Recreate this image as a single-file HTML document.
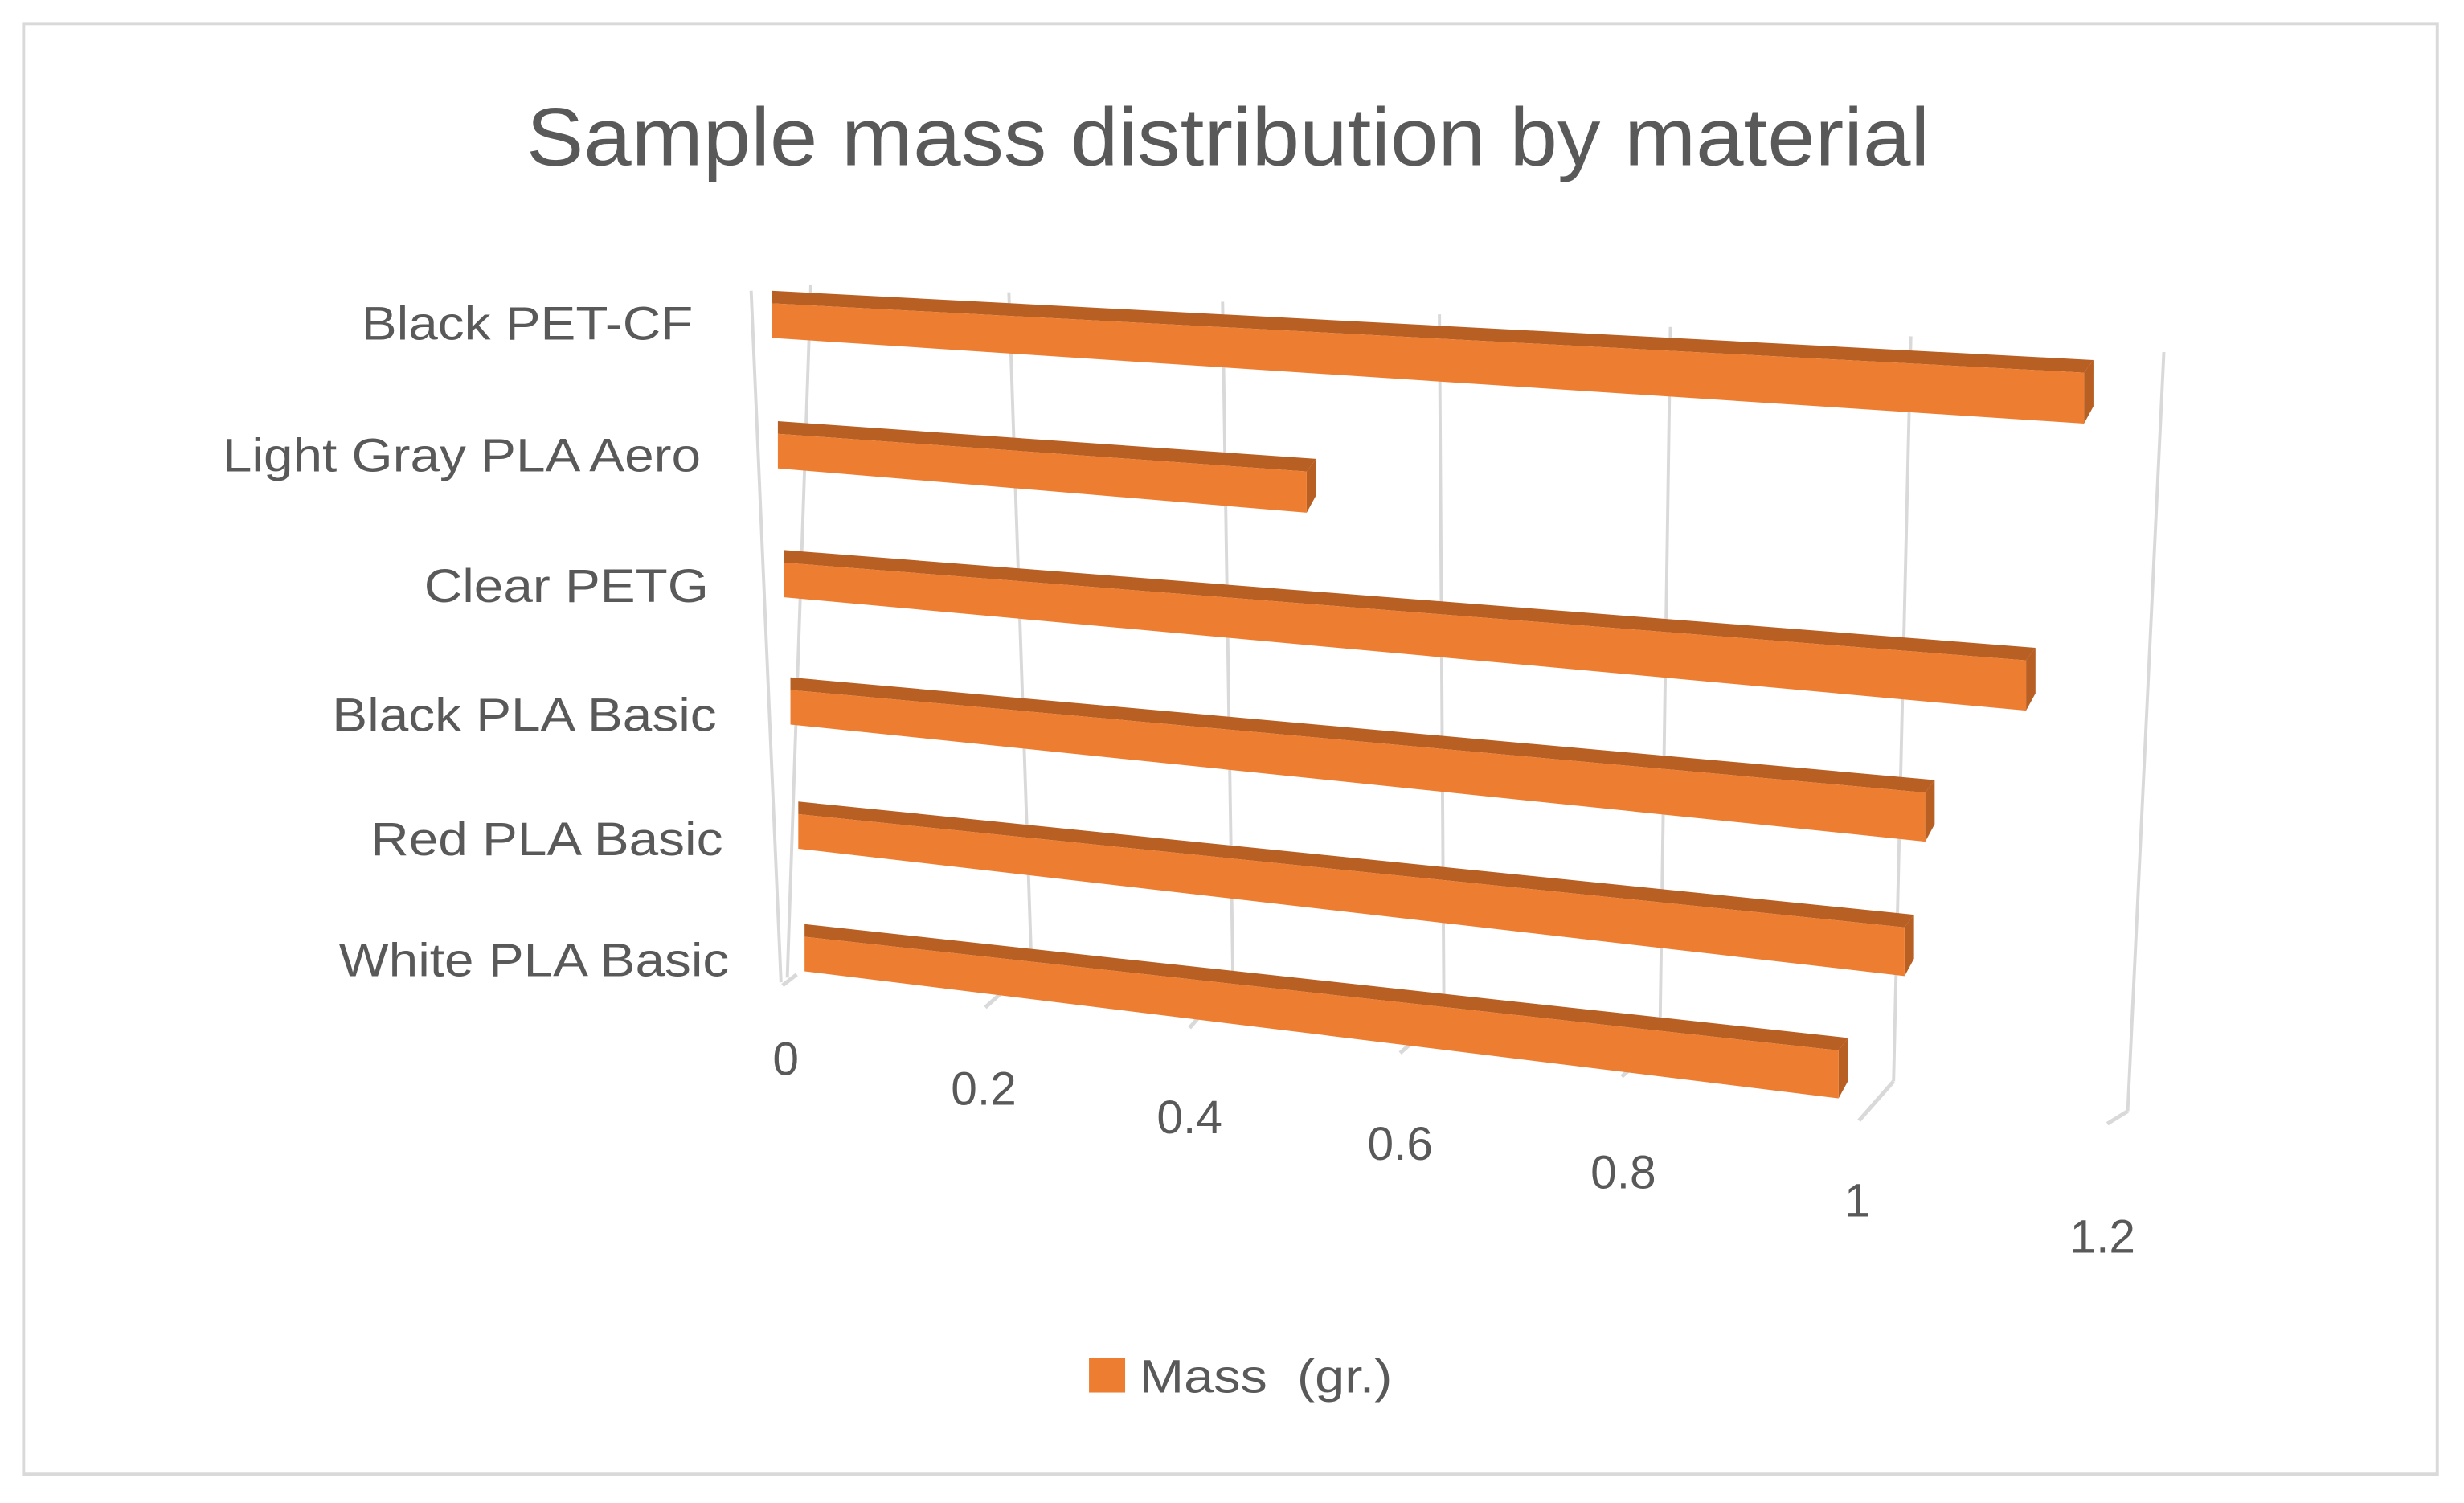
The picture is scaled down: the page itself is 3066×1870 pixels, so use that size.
<!DOCTYPE html>
<html><head><meta charset="utf-8"><style>
html,body{margin:0;padding:0;background:#fff}
svg{display:block}
text{font-family:"Liberation Sans",sans-serif;fill:#595959}
</style></head><body>
<svg id="chart" width="3066" height="1870" viewBox="0 0 1568 956.3" preserveAspectRatio="none" xmlns="http://www.w3.org/2000/svg">
<rect x="15" y="15" width="1536" height="923" fill="#fff" stroke="#d9d9d9" stroke-width="2"/>
<text x="335" y="105" font-size="52" textLength="893" lengthAdjust="spacingAndGlyphs">Sample mass distribution by material</text>
<g id="grid"></g>
<g id="bars"></g>
<g id="cats"></g>
<g id="ticks"></g>
<rect x="693" y="864" width="23" height="22" fill="#ED7D31"/>
<text x="725" y="886" font-size="30" xml:space="preserve" textLength="161" lengthAdjust="spacingAndGlyphs">Mass  (gr.)</text>
</svg>
<script>
const categories = ['Black PET-CF','Light Gray PLA Aero','Clear PETG','Black PLA Basic','Red PLA Basic','White PLA Basic'];
const massValues = [1.16, 0.47, 1.11, 1.02, 1.00, 0.94];
const tickValues = [0, 0.2, 0.4, 0.6, 0.8, 1.0, 1.2];
const tickLabels = ['0','0.2','0.4','0.6','0.8','1','1.2'];

const NS='http://www.w3.org/2000/svg';
function mk(tag,attrs,parent){const e=document.createElementNS(NS,tag);for(const k in attrs)e.setAttribute(k,attrs[k]);parent.appendChild(e);return e;}
function interp(xs,ys,v){for(let i=0;i<xs.length-1;i++){if(v<=xs[i+1]||i===xs.length-2){const f=(v-xs[i])/(xs[i+1]-xs[i]);return ys[i]+f*(ys[i+1]-ys[i]);}}return ys[0];}

// perspective geometry (layout, not data)
const refV=[0,0.2,0.4,0.6,0.8,1.0,1.2];
const gTopX=[516,642,778,916,1063,1216,1377], gTopY=[181,186,192,200,208,214,224];
const gBotX=[501,657,785,919,1056,1205,1354], gBotY=[622,632,648,664,680,688,707];
const ftX=[507,637,763,900,1040,1205,1354], ftY=[620,632,647,662,678,688,707];
const ftX2=[498,627,757,891,1032,1183,1341], ftY2=[627,641,654,670,685,713,715];
const tkX=[500,626,757,891,1033,1182,1338], tkY=[684,703,721,738,756,774,797];
const rowX0=[491,495,499,503,508,512], rowY0=[193,276,358,439,518,596];
const rowS=[720,716,712,708,704,700], rowT=[38,51,56,64,72,77];
const catRight=[441,446,451,456,460,464], catY=[216,300,383,465,544,621];

const grid=document.getElementById('grid');
const lw=mk('line',{x1:478,y1:185,x2:497,y2:625,stroke:'#d9d9d9','stroke-width':2},grid);


tickValues.forEach((v,i)=>{
  const tx=interp(refV,gTopX,v),ty=interp(refV,gTopY,v),bx=interp(refV,gBotX,v),by=interp(refV,gBotY,v);
  const l=mk('line',{x1:tx,y1:ty,x2:bx,y2:by,stroke:'#d9d9d9','stroke-width':2},grid);
  
  
  const t=mk('line',{x1:interp(refV,ftX,v),y1:interp(refV,ftY,v),x2:interp(refV,ftX2,v),y2:interp(refV,ftY2,v),stroke:'#d9d9d9','stroke-width':2.5},grid);
  
  
  const lab=mk('text',{x:interp(refV,tkX,v),y:interp(refV,tkY,v),'font-size':30,'text-anchor':'middle'},document.getElementById('ticks'));
  lab.textContent=tickLabels[i];
  
  
});

const bars=document.getElementById('bars');
massValues.forEach((v,i)=>{
  const x0=rowX0[i],y0=rowY0[i],x1=x0+v*rowS[i],y1=y0+v*rowT[i];
  const h0=22,h1=22+v*9,dx=6,dy=-8;
  const g=mk('g',{},bars);
  
  
  mk('polygon',{points:`${x0},${y0} ${x1},${y1} ${x1+dx},${y1+dy} ${x0+dx-6},${y0+dy}`,fill:'#B85F24'},g);
  mk('polygon',{points:`${x1},${y1} ${x1+dx},${y1+dy} ${x1+dx},${y1+h1+dy-3} ${x1},${y1+h1}`,fill:'#B85F24'},g);
  mk('polygon',{points:`${x0},${y0} ${x1},${y1} ${x1},${y1+h1} ${x0},${y0+h0}`,fill:'#ED7D31'},g);
  const c=mk('text',{x:catRight[i],y:catY[i],'font-size':30,'text-anchor':'end'},document.getElementById('cats'));
  c.textContent=categories[i];
  
  
  const w=c.getComputedTextLength();
  if(w>0){c.setAttribute('textLength',w*1.12);c.setAttribute('lengthAdjust','spacingAndGlyphs');}
});
</script>
</body></html>
